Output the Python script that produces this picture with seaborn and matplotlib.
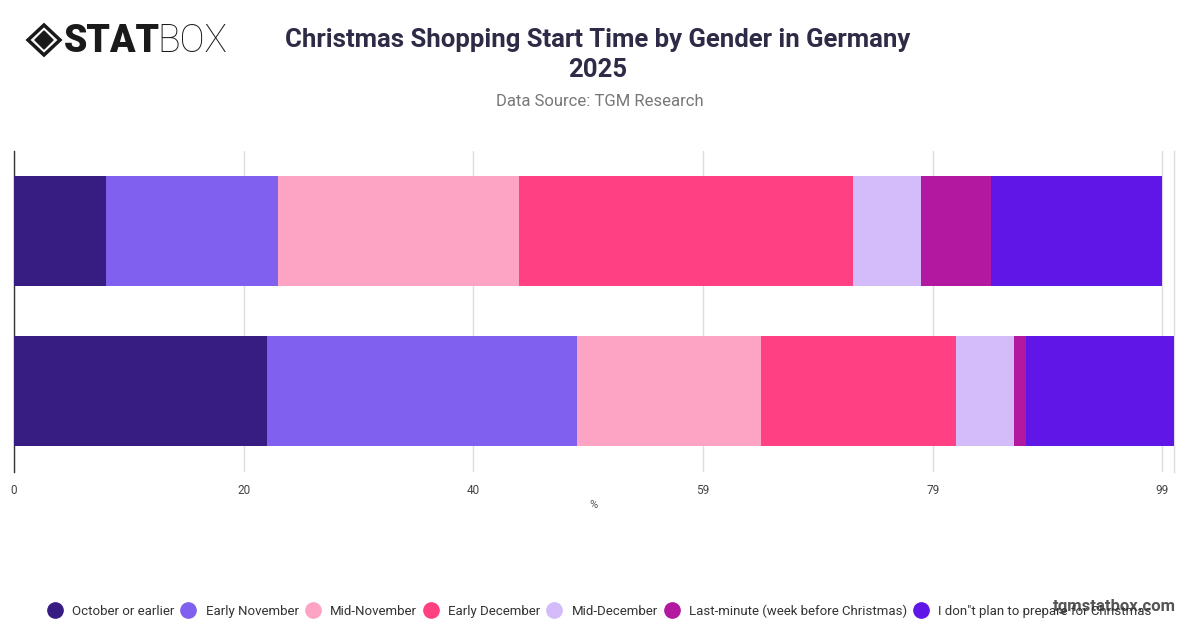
import numpy as np
import pandas as pd
import matplotlib
matplotlib.use('Agg')
import matplotlib.pyplot as plt
from matplotlib.lines import Line2D
from matplotlib.patches import Polygon
import seaborn as sns

# Data
genders = ['Male', 'Female']
categories = ['October or earlier', 'Early November', 'Mid-November', 'Early December',
              'Mid-December', 'Last-minute (week before Christmas)',
              'I don"t plan to prepare for Christmas']
male = [7.9, 14.9, 20.7, 28.8, 5.9, 6.0, 14.8]
female = [21.8, 26.7, 15.9, 16.8, 5.0, 1.0, 12.8]
colors = ['#371C82', '#8060EE', '#FDA3C4', '#FF4082', '#D4BBFA', '#B218A0', '#5F16E6']
tick_vals = [0, 19.8, 39.6, 59.4, 79.2, 99]
tick_labels = ['0', '20', '40', '59', '79', '99']

W, H = 1200, 628
sns.set_theme(style='white')
plt.rcParams['font.family'] = ['Roboto', 'DejaVu Sans']

fig = plt.figure(figsize=(W / 100, H / 100), dpi=100)

def fx(x):
    return x / W

def fy(y):
    return 1 - y / H

ax = fig.add_axes([fx(14), fy(471.5), fx(1174) - fx(14), fy(151) - fy(471.5)])

df = pd.DataFrame({'gender': np.repeat(genders, len(categories)),
                   'category': categories * len(genders),
                   'value': male + female})
df['cum'] = df.groupby('gender')['value'].cumsum()

# stacked bars: draw cumulative totals from the longest to the shortest
for cat, col in reversed(list(zip(categories, colors))):
    sub = df[df['category'] == cat]
    sns.barplot(data=sub, x='cum', y='gender', order=genders, orient='h',
                color=col, saturation=1, width=0.6875, ax=ax, linewidth=0, zorder=3)

ax.set_xlim(0, 100)
ax.set_ylim(1.5, -0.5)
ax.set_xticks(tick_vals)
ax.set_xticklabels(tick_labels, fontsize=8.5, color='#444444')
ax.set_yticks([])
ax.set_ylabel('')
ax.set_xlabel('')
ax.tick_params(axis='x', length=0, pad=9)
ax.grid(axis='x', color='#DDDDDD', linewidth=1, zorder=0)
ax.set_axisbelow(True)
for s in ['top', 'bottom']:
    ax.spines[s].set_visible(False)
ax.spines['left'].set_color('#333333')
ax.spines['left'].set_linewidth(1)
ax.spines['right'].set_color('#DDDDDD')
ax.spines['right'].set_linewidth(1)

fig.text(fx(594), fy(505), '%', fontsize=8, color='#555555', ha='center', va='center')

# title block
fig.text(fx(598), fy(40), 'Christmas Shopping Start Time by Gender in Germany',
         fontsize=18.5, fontweight='bold', color='#2E2B47', ha='center', va='center')
fig.text(fx(598), fy(70), '2025', fontsize=18.5, fontweight='bold', color='#2E2B47',
         ha='center', va='center')
fig.text(fx(600), fy(101), 'Data Source: TGM Research', fontsize=12, color='#777777',
         ha='center', va='center')

# logo
outer = Polygon([(fx(44), fy(25)), (fx(60), fy(40)), (fx(44), fy(55)), (fx(28), fy(40))],
                closed=True, fill=False, edgecolor='#1A1A1A', linewidth=2.5,
                transform=fig.transFigure)
inner = Polygon([(fx(44), fy(31)), (fx(53), fy(40)), (fx(44), fy(49)), (fx(35), fy(40))],
                closed=True, color='#1A1A1A', transform=fig.transFigure)
fig.add_artist(outer)
fig.add_artist(inner)
fig.text(fx(64), fy(41), 'STAT', fontsize=27, fontweight='black', color='#1A1A1A',
         ha='left', va='center')
fig.text(fx(157), fy(41), 'BOX', fontsize=27, fontweight='light', color='#1A1A1A',
         ha='left', va='center')

# legend
handles = [Line2D([0], [0], marker='o', linestyle='', markersize=11,
                  markerfacecolor=c, markeredgecolor=c) for c in colors]
fig.legend(handles, categories, loc='center', bbox_to_anchor=(fx(600), fy(611)),
           ncol=len(categories), frameon=False, fontsize=9.5, handlelength=1.0,
           handletextpad=0.8, columnspacing=0.57, labelcolor='#333333')

fig.text(fx(1176), fy(606), 'tgmstatbox.com', fontsize=12, fontweight='bold',
         color='#555555', ha='right', va='center')

fig.savefig('out.png', dpi=100)
